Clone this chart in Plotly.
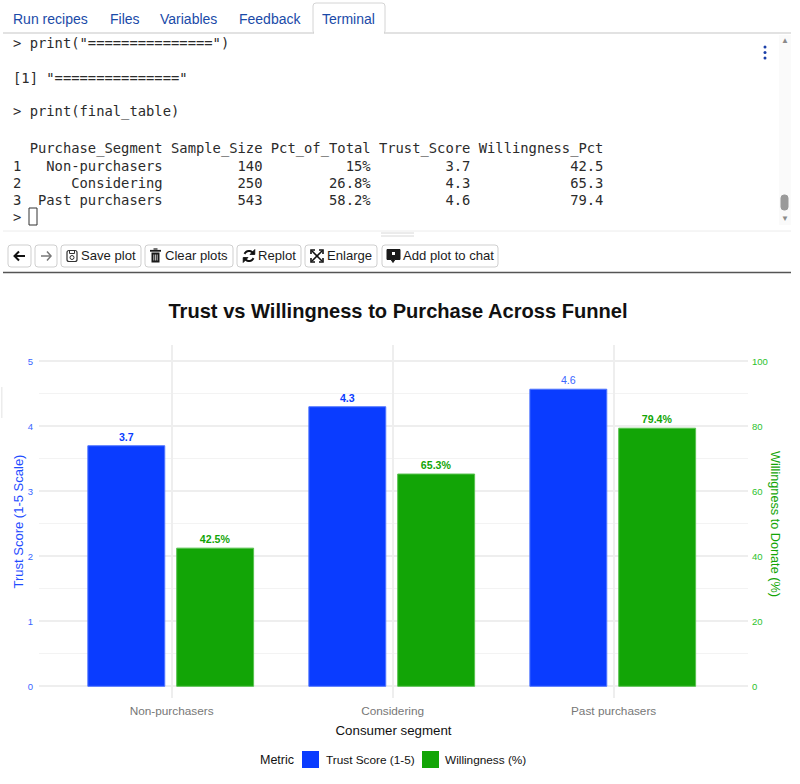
import math
import plotly.graph_objects as go

# chart data
segments = ["Non-purchasers", "Considering", "Past purchasers"]
sample_size = [140, 250, 543]
pct_of_total = ["15%", "26.8%", "58.2%"]
trust_score = [3.7, 4.3, 4.57]
trust_labels = ["3.7", "4.3", "4.6"]
table_trust = ["3.7", "4.3", "4.6"]
willingness = [42.5, 65.3, 79.4]
willingness_labels = ["42.5%", "65.3%", "79.4%"]
trust_ticks = [0, 1, 2, 3, 4, 5]
willing_ticks = [0, 20, 40, 60, 80, 100]

tabs = ["Run recipes", "Files", "Variables", "Feedback", "Terminal"]
tab_x = [13, 110, 160, 239, 322]
buttons = ["Save plot", "Clear plots", "Replot", "Enlarge", "Add plot to chat"]
button_x = [81, 165, 258, 327, 403]
button_box = [(8, 31), (35, 57), (61, 141), (145, 233), (237, 301), (305, 377), (382, 498)]

BLUE = "#0a3cff"
GREEN = "#12a506"
BLUE_TICK = "#3a66ff"
GREEN_TICK = "#2cc22c"
W, H = 800, 784
MONO = "DejaVu Sans Mono"
SANS = "Liberation Sans"


def fx(px):
    return px / W


def fy(py):
    return 1 - py / H


annotations = []
shapes = []


def label(x, y, text, size=13, color="#222222", font=SANS, anchor="left", **kw):
    # left anchored annotations sit about a pixel to the right
    x = x - 1 if anchor == "left" else x
    annotations.append(dict(
        x=fx(x), y=fy(y), xref="paper", yref="paper", text=text, showarrow=False,
        xanchor=anchor, yanchor="middle", borderpad=0,
        font=dict(family=font, size=size, color=color), **kw))


def box(x0, y0, x1, y1, fill=None, line=None, width=1):
    shapes.append(dict(
        type="rect", xref="paper", yref="paper",
        x0=fx(x0), y0=fy(y0), x1=fx(x1), y1=fy(y1),
        fillcolor=fill or "rgba(0,0,0,0)",
        line=dict(color=line or "rgba(0,0,0,0)", width=width if line else 0)))


def rounded(x0, y0, x1, y1, r=3, line="#cfcfcf", fill="white", width=1):
    p = (f"M {fx(x0 + r)} {fy(y0)} L {fx(x1 - r)} {fy(y0)} Q {fx(x1)} {fy(y0)} {fx(x1)} {fy(y0 + r)} "
         f"L {fx(x1)} {fy(y1 - r)} Q {fx(x1)} {fy(y1)} {fx(x1 - r)} {fy(y1)} "
         f"L {fx(x0 + r)} {fy(y1)} Q {fx(x0)} {fy(y1)} {fx(x0)} {fy(y1 - r)} "
         f"L {fx(x0)} {fy(y0 + r)} Q {fx(x0)} {fy(y0)} {fx(x0 + r)} {fy(y0)} Z")
    shapes.append(dict(type="path", xref="paper", yref="paper", path=p,
                       fillcolor=fill, line=dict(color=line, width=width)))


def stroke(points, color="#1a1a1a", width=1.5, fill=None):
    p = "M " + " L ".join(f"{fx(x)} {fy(y)}" for x, y in points)
    if fill:
        p += " Z"
    shapes.append(dict(type="path", xref="paper", yref="paper", path=p,
                       fillcolor=fill or "rgba(0,0,0,0)", line=dict(color=color, width=width)))


def hline(x0, x1, y, color, width=1):
    stroke([(x0, y), (x1, y)], color, width)


def arc(cx, cy, r, a0, a1):
    return [(cx + r * math.cos(math.radians(a)), cy - r * math.sin(math.radians(a)))
            for a in range(a0, a1 + 1, 15)]


# tab strip
hline(3, 791, 33, "#d9d9d9", 1.5)
rounded(313, 3, 385, 34, r=3, line="#d4d4d4")
box(314, 30, 384, 35, fill="white")
for name, x in zip(tabs, tab_x):
    label(x, 19, name, size=14, color="#1a4aa8")

# terminal text
rows = [f"{'':<1} {'Purchase_Segment':>16} Sample_Size Pct_of_Total Trust_Score Willingness_Pct"]
for i, seg in enumerate(segments):
    rows.append(f"{i + 1:<1} {seg:>16} {sample_size[i]:>11} {pct_of_total[i]:>12} "
                f"{table_trust[i]:>11} {willingness[i]:>15}")
term_lines = ['> print("===============")', '[1] "==============="', "> print(final_table)"] + rows + [">"]
term_y = [43, 78, 112, 148.5, 166, 183, 200, 217]
for line, y in zip(term_lines, term_y):
    label(13, y, line, size=13.82, font=MONO, color="#2b2b2b")
box(29, 208, 37, 225, line="#333333")

# terminal scrollbar and menu dots
box(779, 35, 791, 225, fill="#fafafa")
label(785, 41, "▲", size=8, color="#8a8a8a", anchor="center")
label(785, 218, "▼", size=8, color="#8a8a8a", anchor="center")
rounded(781, 195, 788, 210, r=3, line="#9a9a9a", fill="#9a9a9a")
for dot_y in [47, 52.5, 58]:
    shapes.append(dict(type="circle", xref="paper", yref="paper",
                       x0=fx(763.5), x1=fx(766.5), y0=fy(dot_y + 1.5), y1=fy(dot_y - 1.5),
                       fillcolor="#1a3fa8", line=dict(width=0)))

# toolbar
hline(3, 791, 231, "#ececec", 1)
hline(381, 414, 233, "#d8d8d8", 1)
hline(381, 414, 236, "#d8d8d8", 1)
for x0, x1 in button_box:
    rounded(x0, 245, x1, 267)
# back / forward arrows
stroke([(14.5, 256), (25, 256)], "#111111", 2)
stroke([(19, 251.5), (14.5, 256), (19, 260.5)], "#111111", 2)
stroke([(41, 256), (51, 256)], "#777777", 1.5)
stroke([(47, 251.5), (51, 256), (47, 260.5)], "#777777", 1.5)
# save icon
rounded(67, 250.5, 77, 261.5, r=2, line="#333333", fill="white", width=1.2)
box(69.5, 250.5, 74.5, 253.5, line="#333333", width=1)
shapes.append(dict(type="circle", xref="paper", yref="paper", x0=fx(70), x1=fx(74),
                   y0=fy(259.5), y1=fy(255.5), line=dict(color="#333333", width=1)))
# trash icon
box(151.5, 252.5, 159.5, 262.5, fill="#1a1a1a")
hline(150, 161, 250.8, "#1a1a1a", 1.8)
hline(153.5, 157.5, 249, "#1a1a1a", 1.2)
for tx in [153.8, 155.5, 157.2]:
    stroke([(tx, 254.5), (tx, 260.5)], "white", 0.7)
# replot icon
stroke(arc(249, 256, 5, 20, 165), "#111111", 2)
stroke(arc(249, 256, 5, 200, 345), "#111111", 2)
stroke([(254.8, 249.5), (254.8, 254.5), (250, 254.5)], "#111111", 0.8, fill="#111111")
stroke([(243.2, 262.5), (243.2, 257.5), (248, 257.5)], "#111111", 0.8, fill="#111111")
# enlarge icon
stroke([(312, 251), (322, 261)], "#111111", 1.6)
stroke([(322, 251), (312, 261)], "#111111", 1.6)
for cx, cy, dx, dy in [(311, 250, 1, 1), (323, 250, -1, 1), (311, 262, 1, -1), (323, 262, -1, -1)]:
    stroke([(cx + 4 * dx, cy), (cx, cy), (cx, cy + 4 * dy)], "#111111", 1.6)
# add-to-chat icon
stroke([(387, 249.5), (400, 249.5), (400, 259.5), (395, 259.5), (393, 262.5), (391, 259.5), (387, 259.5)],
       "#1a1a1a", 1, fill="#1a1a1a")
box(392, 252, 395, 255, fill="white")
for name, x in zip(buttons, button_x):
    label(x, 256, name, size=13.1, color="#1c1c1c")
hline(3, 791, 272.5, "#555555", 1.5)

# small tick at the left page edge
box(1, 387, 2.5, 418, fill="#ececec")

# legend row
label(260, 760, "Metric", size=12.5, color="#111111")
box(302, 751, 319, 768, fill=BLUE)
label(326, 760, "Trust Score (1-5)", size=11.8, color="#111111")
box(422, 751, 439, 768, fill=GREEN)
label(445, 760, "Willingness (%)", size=11.8, color="#111111")

# right axis title reads top-down in the reference, plotly axis titles can't do that
label(775, 524, "Willingness to Donate (%)", size=12.7, color=GREEN, anchor="center", textangle=90)

fig = go.Figure()
fig.add_trace(go.Bar(
    x=segments, y=trust_score, name="Trust Score (1-5)", yaxis="y",
    width=0.348, offset=-0.379, marker=dict(color=BLUE, line=dict(color="#4f74ff", width=1)),
    text=trust_labels, textposition="outside", cliponaxis=False,
    textfont=dict(family=SANS, size=10.6, color=[BLUE, BLUE, BLUE_TICK],
                  weight=["bold", "bold", "normal"])))
fig.add_trace(go.Bar(
    x=segments, y=willingness, name="Willingness (%)", yaxis="y2",
    width=0.348, offset=0.023, marker=dict(color=GREEN, line=dict(color="#58c24f", width=1)),
    text=willingness_labels, textposition="outside", cliponaxis=False,
    textfont=dict(family=SANS, size=10.6, color=GREEN, weight="bold")))

fig.update_layout(
    width=W, height=H, autosize=False,
    margin=dict(l=0, r=0, t=0, b=0),
    paper_bgcolor="white", plot_bgcolor="white",
    showlegend=False,
    font=dict(family=SANS),
    title=dict(text="<b>Trust vs Willingness to Purchase Across Funnel</b>",
               x=fx(398), y=fy(311), xanchor="center", yanchor="middle",
               font=dict(family=SANS, size=20.1, color="#111111")),
    xaxis=dict(domain=[fx(39), fx(748)], range=[-0.6, 2.608], type="category",
               showgrid=True, gridcolor="#eeeeee", gridwidth=1.5, zeroline=False,
               showline=False, ticks="outside", ticklen=2, tickcolor="rgba(0,0,0,0)",
               tickfont=dict(family=SANS, size=11.8, color="#777777"),
               title=dict(text="Consumer segment", standoff=8,
                          font=dict(family=SANS, size=13.3, color="#111111"))),
    yaxis=dict(domain=[fy(698), fy(345)], range=[-0.18, 5.25], tickvals=trust_ticks,
               showgrid=True, gridcolor="#eeeeee", gridwidth=1.5, zeroline=False,
               showline=False, ticks="outside", ticklen=3, tickcolor="rgba(0,0,0,0)",
               minor=dict(dtick=0.5, showgrid=True, gridcolor="#f3f3f3", gridwidth=1),
               tickfont=dict(family=SANS, size=9.5, color=BLUE_TICK),
               title=dict(text="Trust Score (1-5 Scale)", standoff=1,
                          font=dict(family=SANS, size=13, color="#1f4dff"))),
    yaxis2=dict(domain=[fy(698), fy(345)], range=[-3.6, 105], tickvals=willing_ticks,
                overlaying="y", side="right", showgrid=False, zeroline=False,
                showline=False, ticks="outside", ticklen=1, tickcolor="rgba(0,0,0,0)",
                tickfont=dict(family=SANS, size=9.5, color=GREEN_TICK)),
    annotations=annotations,
    shapes=shapes,
)

fig.write_html("out.html", config={"displayModeBar": False},
               post_script="document.body.style.margin='0';")
